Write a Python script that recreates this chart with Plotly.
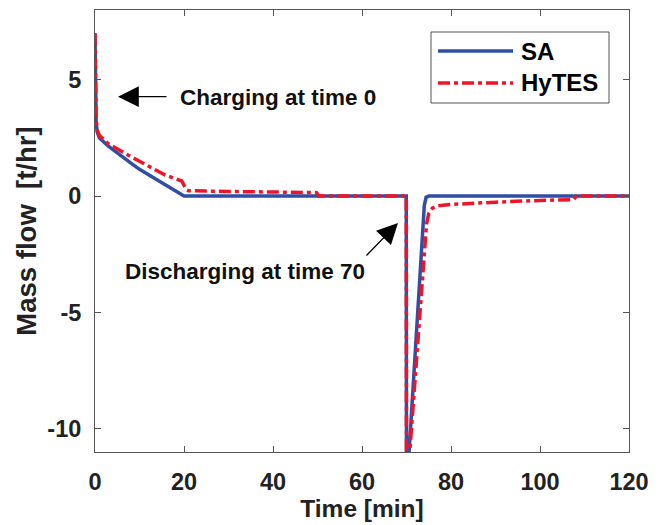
import plotly.graph_objects as go

# ---- data ----
sa_t = [0, 0.1, 0.25, 0.5, 1, 3, 6, 8, 10, 13, 15.5, 18, 20, 30, 50, 69.95,
        70.0, 70.1, 74.0, 74.4, 75, 90, 110, 120]
sa_y = [7.0, 5.5, 3.2, 2.75, 2.5, 2.15, 1.7, 1.43, 1.15, 0.8, 0.5, 0.23, 0.0, 0.0, 0.0, 0.0,
        -12.5, -12.5, -0.4, -0.05, 0.0, 0.0, 0.0, 0.0]

hy_t = [0, 0.1, 0.25, 0.5, 1, 3, 6, 8, 10, 13, 15.5, 18, 19.5, 20.5, 21, 30, 40, 49.8, 50.3,
        60, 69.95, 70.0, 70.15, 74.5, 75, 75.8, 77, 80, 85, 90, 98, 104, 107.5, 108.2, 115, 120]
hy_y = [7.0, 5.5, 3.3, 2.85, 2.6, 2.25, 1.9, 1.7, 1.5, 1.2, 0.93, 0.75, 0.65, 0.28, 0.23, 0.2,
        0.18, 0.15, 0.0, 0.0, 0.0, -12.5, -12.5, -1.2, -0.75, -0.52, -0.42, -0.36, -0.3, -0.26,
        -0.2, -0.18, -0.15, 0.0, 0.0, 0.0]

x_ticks = [0, 20, 40, 60, 80, 100, 120]
y_ticks = [-10, -5, 0, 5]

BLUE = "#2f4fa6"
RED = "#f01428"
FONT = "Liberation Sans, Arial, sans-serif"

fig = go.Figure()
fig.add_trace(go.Scatter(x=sa_t, y=sa_y, mode="lines", name="SA",
                         line=dict(color=BLUE, width=3.5), showlegend=False))
fig.add_trace(go.Scatter(x=hy_t, y=hy_y, mode="lines", name="HyTES",
                         line=dict(color=RED, width=3.5, dash="12px,4px,4px,4px"),
                         showlegend=False))

# plot area: x 95..629, y 10..452
def px(xp):
    return (xp - 95) / 534.0

def py(yp):
    return (452 - yp) / 442.0

shapes = [
    dict(type="rect", xref="paper", yref="paper", x0=px(431), x1=px(609), y0=py(103), y1=py(32),
         line=dict(color="#555555", width=1), fillcolor="white"),
    dict(type="line", xref="paper", yref="paper", x0=px(438), x1=px(513), y0=py(51), y1=py(51),
         line=dict(color=BLUE, width=3.5)),
    dict(type="line", xref="paper", yref="paper", x0=px(438), x1=px(513), y0=py(83), y1=py(83),
         line=dict(color=RED, width=3.5, dash="12px,4px,4px,4px")),
]

annotations = [
    dict(xref="paper", yref="paper", x=px(519), y=py(51), text="<b>SA</b>", showarrow=False,
         xanchor="left", yanchor="middle", font=dict(size=24, color="black", family=FONT)),
    dict(xref="paper", yref="paper", x=px(519), y=py(83), text="<b>HyTES</b>", showarrow=False,
         xanchor="left", yanchor="middle", font=dict(size=24, color="black", family=FONT)),
    # Charging arrow
    dict(x=(118 - 95) / 4.45, y=(196 - 96) / 23.4, xref="x", yref="y", text="", showarrow=True,
         ax=50, ay=0, arrowhead=2, arrowsize=3.2, arrowwidth=1.3, arrowcolor="black"),
    dict(x=(178 - 95) / 4.45, y=(196 - 97) / 23.4, xref="x", yref="y",
         text="<b>Charging at time 0</b>", showarrow=False, xanchor="left", yanchor="middle",
         font=dict(size=22.5, color="#111111", family=FONT)),
    # Discharging arrow
    dict(x=(398 - 95) / 4.45, y=(196 - 223) / 23.4, xref="x", yref="y", text="", showarrow=True,
         ax=-33, ay=34, arrowhead=2, arrowsize=3.2, arrowwidth=1.3, arrowcolor="black"),
    dict(x=(123 - 95) / 4.45, y=(196 - 272) / 23.4, xref="x", yref="y",
         text="<b>Discharging at time 70</b>", showarrow=False, xanchor="left", yanchor="middle",
         font=dict(size=22.5, color="#111111", family=FONT)),
]

fig.update_layout(
    width=662, height=525,
    margin=dict(l=95, r=33, t=10, b=73),
    paper_bgcolor="white", plot_bgcolor="white",
    font=dict(family=FONT, size=23.5, color="#222222"),
    shapes=shapes, annotations=annotations,
    xaxis=dict(range=[0, 120], tickvals=x_ticks, ticktext=[f"<b>{v}</b>" for v in x_ticks],
               ticks="inside", ticklen=6, tickcolor="#555555", showline=True,
               linecolor="#555555", linewidth=1, mirror="ticks", showgrid=False, zeroline=False,
               ticklabelstandoff=9, automargin=False,
               title=dict(text="<b>Time [min]</b>", standoff=4, font=dict(size=24.5))),
    yaxis=dict(range=[-11, 8], tickvals=y_ticks, ticktext=[f"<b>{v}</b>" for v in y_ticks],
               ticks="inside", ticklen=6, tickcolor="#555555", showline=True,
               linecolor="#555555", linewidth=1, mirror="ticks", showgrid=False, zeroline=False,
               ticklabelstandoff=8, automargin=False,
               title=dict(text="<b>Mass flow  [t/hr]</b>", standoff=2, font=dict(size=27.5))),
)

fig.write_html("out.html")
